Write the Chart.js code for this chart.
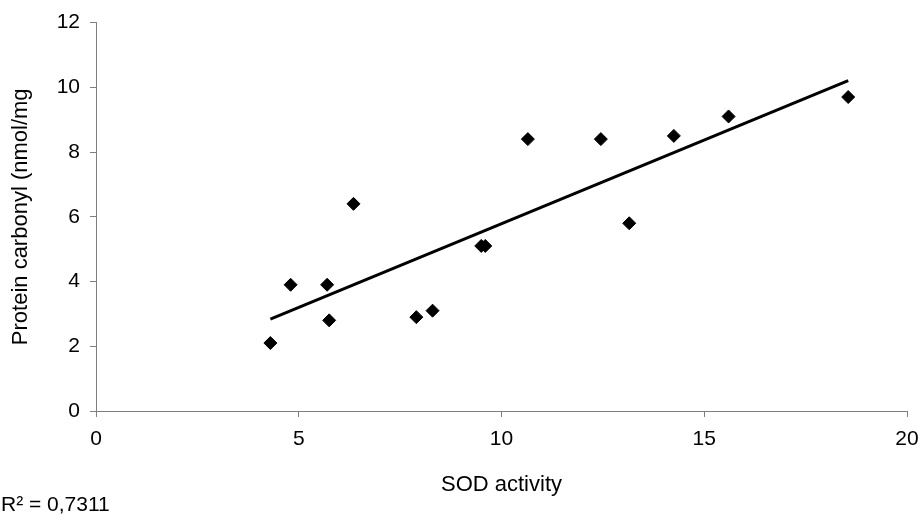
<!DOCTYPE html>
<html>
<head>
<meta charset="utf-8">
<script src="https://cdn.jsdelivr.net/npm/chart.js@4.4.1/dist/chart.umd.min.js"></script>
<style>
html,body{margin:0;padding:0;background:#fff;}
canvas{display:block;}
</style>
</head>
<body>
<canvas id="c" width="919" height="519"></canvas>
<script>
// ---- data ----
const sodActivity     = [4.3, 4.8, 5.7, 5.75, 6.35, 7.9, 8.3, 9.5, 9.6, 10.65, 12.45, 13.15, 14.25, 15.6, 18.55];
const proteinCarbonyl = [2.1, 3.9, 3.9, 2.8, 6.4, 2.9, 3.1, 5.1, 5.1, 8.4, 8.4, 5.8, 8.5, 9.1, 9.7];
const xTickValues = [0, 5, 10, 15, 20];
const yTickValues = [0, 2, 4, 6, 8, 10, 12];
const xAxisTitle = 'SOD activity';
const yAxisTitle = 'Protein carbonyl (nmol/mg';
const rSquaredLabel = 'R\u00B2 = 0,7311';

// ---- linear trend line (least squares over the data) ----
const n = sodActivity.length;
const mx = sodActivity.reduce((a, b) => a + b, 0) / n;
const my = proteinCarbonyl.reduce((a, b) => a + b, 0) / n;
let sxy = 0, sxx = 0;
for (let i = 0; i < n; i++) {
  sxy += (sodActivity[i] - mx) * (proteinCarbonyl[i] - my);
  sxx += (sodActivity[i] - mx) * (sodActivity[i] - mx);
}
const slope = sxy / sxx;
const intercept = my - slope * mx;
const xMin = Math.min(...sodActivity), xMax = Math.max(...sodActivity);
const trendPoints = [xMin, xMax].map(x => ({ x: x, y: intercept + slope * x }));
const scatterPoints = sodActivity.map((x, i) => ({ x: x, y: proteinCarbonyl[i] }));

const FONT = { family: "'Liberation Sans', Arial, sans-serif", size: 21 };
const TITLE_FONT = { family: "'Liberation Sans', Arial, sans-serif", size: 22 };
const AXIS_GREY = '#7f7f7f';

const r2Plugin = {
  id: 'r2label',
  afterDraw(chart) {
    const c = chart.ctx;
    c.save();
    c.font = "21px 'Liberation Sans', Arial, sans-serif";
    c.fillStyle = '#000';
    c.textAlign = 'left';
    c.textBaseline = 'middle';
    c.fillText(rSquaredLabel, 1, 505);
    c.restore();
  }
};

new Chart(document.getElementById('c'), {
  type: 'scatter',
  data: {
    datasets: [
      {
        data: scatterPoints,
        pointStyle: 'rectRot',
        pointRadius: 6.5,
        pointHoverRadius: 6.5,
        backgroundColor: '#000',
        borderColor: '#000',
        borderWidth: 1,
        order: 2
      },
      {
        type: 'line',
        data: trendPoints,
        borderColor: '#000',
        borderWidth: 3,
        pointRadius: 0,
        showLine: true,
        fill: false,
        tension: 0,
        order: 1
      }
    ]
  },
  options: {
    responsive: false,
    animation: false,
    devicePixelRatio: 1,
    layout: { padding: { top: 21, right: 12, left: 0, bottom: 0 } },
    plugins: { legend: { display: false }, tooltip: { enabled: false } },
    scales: {
      x: {
        type: 'linear',
        min: 0, max: 20,
        afterBuildTicks: s => { s.ticks = xTickValues.map(v => ({ value: v })); },
        ticks: { color: '#000', font: FONT, padding: 10, maxRotation: 0 },
        grid: { display: true, drawOnChartArea: false, drawTicks: true, tickLength: 6, color: AXIS_GREY },
        border: { display: true, color: AXIS_GREY, width: 1 },
        title: { display: true, text: xAxisTitle, color: '#000', font: TITLE_FONT, padding: { top: 0, bottom: 21 } },
        afterFit: s => { s.height = 108; s.paddingRight = 0; s.paddingLeft = 0; }
      },
      y: {
        type: 'linear',
        min: 0, max: 12,
        afterBuildTicks: s => { s.ticks = yTickValues.map(v => ({ value: v })); },
        ticks: { color: '#000', font: FONT, padding: 10 },
        grid: { display: true, drawOnChartArea: false, drawTicks: true, tickLength: 6, color: AXIS_GREY },
        border: { display: true, color: AXIS_GREY, width: 1 },
        title: { display: true, text: yAxisTitle, color: '#000', font: TITLE_FONT, padding: { top: 8, bottom: 0 } },
        afterFit: s => { s.width = 96; }
      }
    }
  },
  plugins: [r2Plugin]
});
</script>
</body>
</html>
